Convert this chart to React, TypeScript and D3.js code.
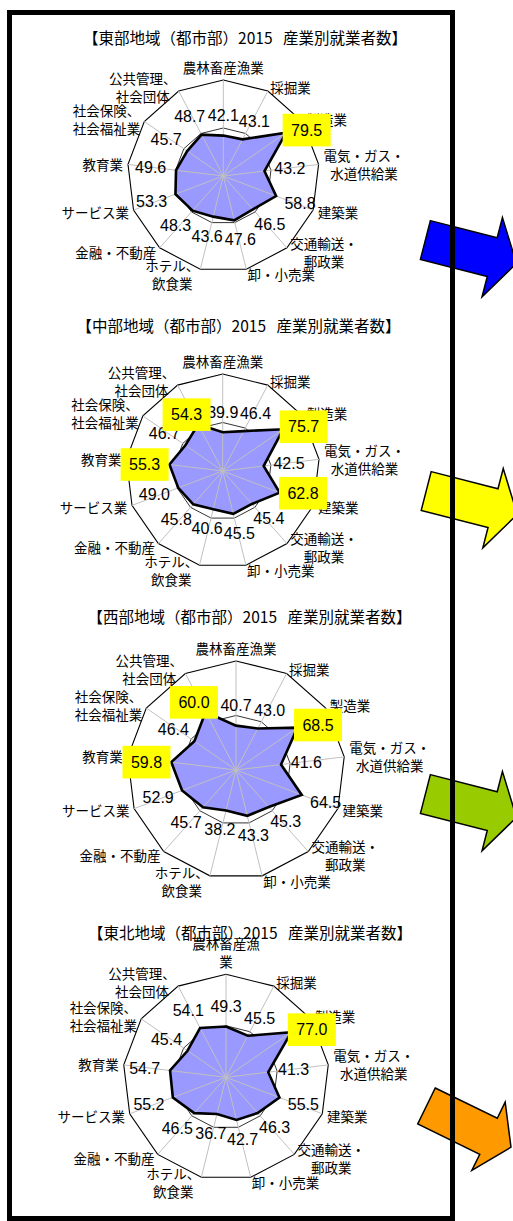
import React from "react";
import * as d3 from "d3";

const categories: string[][] = [
  ["農林畜産漁業"],
  ["採掘業"],
  ["製造業"],
  ["電気・ガス・", "水道供給業"],
  ["建築業"],
  ["交通輸送・", "郵政業"],
  ["卸・小売業"],
  ["ホテル、", "飲食業"],
  ["金融・不動産"],
  ["サービス業"],
  ["教育業"],
  ["社会保険、", "社会福祉業"],
  ["公共管理、", "社会団体"],
];
const northeastFirstCategory: string[] = ["農林畜産漁", "業"];

const titles = [
  "【東部地域（都市部）2015   産業別就業者数】",
  "【中部地域（都市部）2015   産業別就業者数】",
  "【西部地域（都市部）2015   産業別就業者数】",
  "【東北地域（都市部）2015   産業別就業者数】",
];

const eastValues = [42.1, 43.1, 79.5, 43.2, 58.8, 46.5, 47.6, 43.6, 48.3, 53.3, 49.6, 45.7, 48.7];
const centralValues = [39.9, 46.4, 75.7, 42.5, 62.8, 45.4, 45.5, 40.6, 45.8, 49.0, 55.3, 46.7, 54.3];
const westValues = [40.7, 43.0, 68.5, 41.6, 64.5, 45.3, 43.3, 38.2, 45.7, 52.9, 59.8, 46.4, 60.0];
const northeastValues = [49.3, 45.5, 77.0, 41.3, 55.5, 46.3, 42.7, 36.7, 46.5, 55.2, 54.7, 45.4, 54.1];

const eastHighlight = [2];
const centralHighlight = [2, 4, 10, 12];
const westHighlight = [2, 10, 12];
const northeastHighlight = [2];

const axisDomain = [0, 100];
const gridTicks = [50, 100];

const arrowColors = ["#0000FF", "#FFFF00", "#99CC00", "#FF9900"];

// layout
const W = 513;
const H = 1221;
const layouts = [
  { cx: 223.3, cy: 176, R: 96, tx: 245, ty: 36.7 },
  { cx: 222.7, cy: 471, R: 97, tx: 238.5, ty: 325 },
  { cx: 236, cy: 770, R: 109, tx: 249.5, ty: 616 },
  { cx: 226, cy: 1077.3, R: 103, tx: 250, ty: 932 },
];
const arrowLayouts = [
  { x: 425.4, y: 240, rot: 14.4, head: 41 },
  { x: 426.2, y: 491, rot: 14.4, head: 41 },
  { x: 425.4, y: 794, rot: 14.4, head: 41 },
  { x: 426.5, y: 1106, rot: 26, head: 38 },
];

const CJK = "'Noto Sans CJK JP', 'Noto Sans', sans-serif";
const NUM = "'Liberation Sans', Arial, sans-serif";
const catFontSize = 13.5;
const valFontSize = 16;

let ctx: CanvasRenderingContext2D | null = null;
function textWidth(s: string, font: string): number {
  if (!ctx && typeof document !== "undefined") ctx = document.createElement("canvas").getContext("2d");
  if (!ctx) return s.length * 10;
  ctx.font = font;
  return ctx.measureText(s).width;
}

type ChartProps = {
  values: number[];
  highlight: number[];
  title: string;
  cats: string[][];
  layout: { cx: number; cy: number; R: number; tx: number; ty: number };
};

function Radar({ values, highlight, title, cats, layout }: ChartProps) {
  const { cx, cy, R, tx, ty } = layout;
  const n = cats.length;
  const r = d3.scaleLinear().domain(axisDomain).range([0, R]);
  const angle = (i: number) => (i * 2 * Math.PI) / n;
  const radial = d3
    .lineRadial<number>()
    .angle((_, i) => angle(i))
    .radius((d) => r(d))
    .curve(d3.curveLinearClosed);

  const lineH = 18;
  const catFont = `${catFontSize}px ${CJK}`;
  const valFont = `${valFontSize}px ${NUM}`;

  return (
    <g>
      <text
        x={tx}
        y={ty}
        textAnchor="middle"
        dominantBaseline="central"
        fontFamily={CJK}
        fontSize={15.5}
        fill="#000"
        style={{ whiteSpace: "pre" }}
      >
        {title}
      </text>
      <g transform={`translate(${cx},${cy})`}>
        {gridTicks.map((t) => (
          <path
            key={t}
            d={radial(new Array(n).fill(t)) || ""}
            fill="none"
            stroke="#000"
            strokeWidth={t === 100 ? 1.1 : 0.8}
          />
        ))}
        <path d={radial(values) || ""} fill="#9999FF" stroke="none" />
        {cats.map((_, i) => {
          const a = angle(i);
          return (
            <line
              key={i}
              x1={0}
              y1={0}
              x2={Math.sin(a) * r(100)}
              y2={-Math.cos(a) * r(100)}
              stroke="#C0C0C0"
              strokeWidth={1}
            />
          );
        })}
        <path d={radial(values) || ""} fill="none" stroke="#000" strokeWidth={2.6} strokeLinejoin="miter" />
        {cats.map((lines, i) => {
          const a = angle(i);
          const dx = Math.sin(a);
          const dy = -Math.cos(a);
          const pr = R + 5;
          const px = dx * pr;
          const py = dy * pr;
          const w = Math.max(...lines.map((l) => textWidth(l, catFont)));
          const h = lines.length * lineH;
          let ccx: number, ccy: number;
          if (Math.abs(dx) < 0.1) {
            ccx = px;
            ccy = py + (dy < 0 ? -h / 2 + 1 : h / 2);
          } else {
            ccx = px + Math.sign(dx) * w / 2;
            ccy = py;
          }
          return (
            <text
              key={i}
              textAnchor="middle"
              fontFamily={CJK}
              fontSize={catFontSize}
              fill="#000"
            >
              {lines.map((l, k) => (
                <tspan key={k} x={ccx} y={ccy + (k - (lines.length - 1) / 2) * lineH} dominantBaseline="central">
                  {l}
                </tspan>
              ))}
            </text>
          );
        })}
        {values.map((v, i) => {
          const a = angle(i);
          const dx = Math.sin(a);
          const dy = -Math.cos(a);
          const px = dx * r(v);
          const py = dy * r(v);
          const label = v.toFixed(1);
          const hl = highlight.includes(i);
          const tw = textWidth(label, valFont);
          let lx: number, ly: number;
          if (hl) {
            lx = px + dx * 25;
            ly = py + dy * dy * dy * 14;
          } else {
            lx = px + dx * (tw / 2 + 10);
            ly = py + dy * 20;
          }
          return (
            <g key={i}>
              {hl && <rect x={lx - 24} y={ly - 16.3} width={48} height={32.6} fill="#FFFF00" />}
              <text
                x={lx}
                y={ly}
                textAnchor="middle"
                dominantBaseline="central"
                fontFamily={NUM}
                fontSize={valFontSize}
                fill="#000"
              >
                {label}
              </text>
            </g>
          );
        })}
      </g>
    </g>
  );
}

function arrowPath(head: number) {
  const shaft = 20;
  const base = 69;
  const tip = 94;
  const pts: [number, number][] = [
    [0, -shaft],
    [base, -shaft],
    [base, -head],
    [tip, 0],
    [base, head],
    [base, shaft],
    [0, shaft],
  ];
  return (d3.line()(pts) || "") + "Z";
}

export default function App() {
  const charts = [
    { values: eastValues, highlight: eastHighlight },
    { values: centralValues, highlight: centralHighlight },
    { values: westValues, highlight: westHighlight },
    { values: northeastValues, highlight: northeastHighlight },
  ];
  return (
    <svg
      width={W}
      height={H}
      style={{ position: "absolute", left: 0, top: 0, background: "#fff" }}
      xmlns="http://www.w3.org/2000/svg"
    >
      <rect x={0} y={0} width={W} height={H} fill="#fff" />
      {arrowLayouts.map((a, i) => (
        <path
          key={i}
          d={arrowPath(a.head)}
          transform={`translate(${a.x},${a.y}) rotate(${a.rot})`}
          fill={arrowColors[i]}
          stroke="#000"
          strokeWidth={1.5}
        />
      ))}
      <rect x={9.5} y={12.5} width={443} height={1206} fill="none" stroke="#000" strokeWidth={5} />
      {charts.map((c, i) => (
        <Radar
          key={i}
          values={c.values}
          highlight={c.highlight}
          title={titles[i]}
          cats={i === 3 ? [northeastFirstCategory, ...categories.slice(1)] : categories}
          layout={layouts[i]}
        />
      ))}
    </svg>
  );
}
